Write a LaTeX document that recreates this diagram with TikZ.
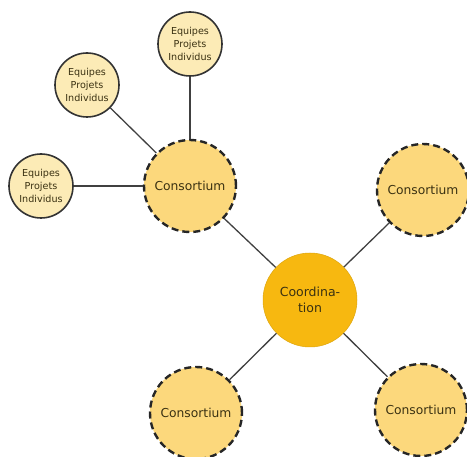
\documentclass[tikz,border=0pt]{standalone}
\usepackage{fontspec}
\setmainfont{DejaVu Sans}
\definecolor{consfill}{HTML}{FCD87C}
\definecolor{coordfill}{HTML}{F7B810}
\definecolor{smallfill}{HTML}{FCEBB6}
\definecolor{txt}{HTML}{3A3112}
\definecolor{edgecol}{HTML}{404040}
\begin{document}
\begin{tikzpicture}[x=1pt,y=-1pt,
  cons/.style={circle, fill=consfill, draw=black!85, line width=2.4pt, dash pattern=on 7pt off 4pt, minimum size=92pt, inner sep=0pt, font=\fontsize{12.3}{15}\selectfont, text=txt},
  coordc/.style={circle, fill=coordfill, draw=coordfill!90!black, line width=0.5pt, minimum size=94pt, inner sep=0pt, font=\fontsize{12.5}{15.5}\selectfont, text=txt, align=center},
  smallc/.style={circle, fill=smallfill, draw=black!80, line width=1.6pt, minimum size=64pt, inner sep=0pt, font=\fontsize{9.6}{13}\selectfont, text=txt, align=center},
  link/.style={draw=edgecol, line width=1.3pt}]
\useasboundingbox (0,0) rectangle (467,457);
\node[coordc] (co) at (310,300) {Coordina-\\tion};
\node[cons] (c1) at (190,186) {Consortium};
\node[cons] (c2) at (423,190) {Consortium};
\node[cons] (c3) at (196,413) {Consortium};
\node[cons] (c4) at (421,410) {Consortium};
\node[smallc] (e1) at (190,44) {Equipes\\Projets\\Individus};
\node[smallc] (e2) at (87,85) {Equipes\\Projets\\Individus};
\node[smallc] (e3) at (41,186) {Equipes\\Projets\\Individus};
\draw[link] (co) -- (c1);
\draw[link] (co) -- (c2);
\draw[link] (co) -- (c3);
\draw[link] (co) -- (c4);
\draw[link] (c1) -- (e1);
\draw[link] (c1) -- (e2);
\draw[link] (c1) -- (e3);
\end{tikzpicture}
\end{document}
